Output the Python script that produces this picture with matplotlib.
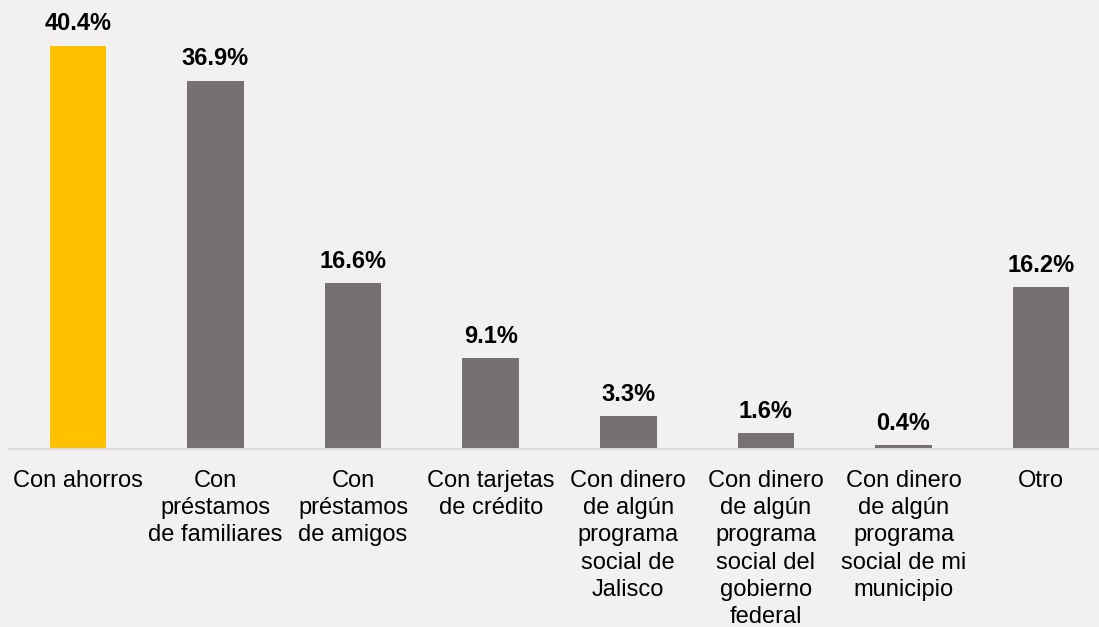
import matplotlib.pyplot as plt
import numpy as np

plt.rcParams['font.family'] = ['Liberation Sans', 'DejaVu Sans']

categories = [
    "Con ahorros",
    "Con\npréstamos\nde familiares",
    "Con\npréstamos\nde amigos",
    "Con tarjetas\nde crédito",
    "Con dinero\nde algún\nprograma\nsocial de\nJalisco",
    "Con dinero\nde algún\nprograma\nsocial del\ngobierno\nfederal",
    "Con dinero\nde algún\nprograma\nsocial de mi\nmunicipio",
    "Otro",
]
values = [40.4, 36.9, 16.6, 9.1, 3.3, 1.6, 0.4, 16.2]
highlight = 0

bg = "#F2F0F1"
gray = "#767171"
yellow = "#FFC000"

fig = plt.figure(figsize=(10.99, 6.27), dpi=100, facecolor=bg)
ax = fig.add_axes([9 / 1099, 178 / 627, 1101 / 1099, 449 / 627])
ax.set_facecolor(bg)

x = np.arange(len(values))
colors = [yellow if i == highlight else gray for i in x]
bars = ax.bar(x, values, width=0.41, color=colors)

for b, v in zip(bars, values):
    ax.annotate(f"{v:.1f}%", (b.get_x() + b.get_width() / 2, v),
                xytext=(0, 7.5), textcoords="offset points",
                ha="center", va="bottom", fontsize=17, fontweight="bold")

ax.set_xlim(-0.5, len(values) - 0.5)
ax.set_ylim(0, 45)
ax.set_xticks(x)
ax.set_xticklabels(categories, fontsize=17, linespacing=1.31)
ax.tick_params(axis="x", length=0, pad=15)
ax.set_yticks([])
for s in ["top", "right", "left"]:
    ax.spines[s].set_visible(False)
ax.spines["bottom"].set_color("#D9D9D9")
ax.spines["bottom"].set_linewidth(1.5)

fig.savefig("out.png", dpi=100, facecolor=bg)
